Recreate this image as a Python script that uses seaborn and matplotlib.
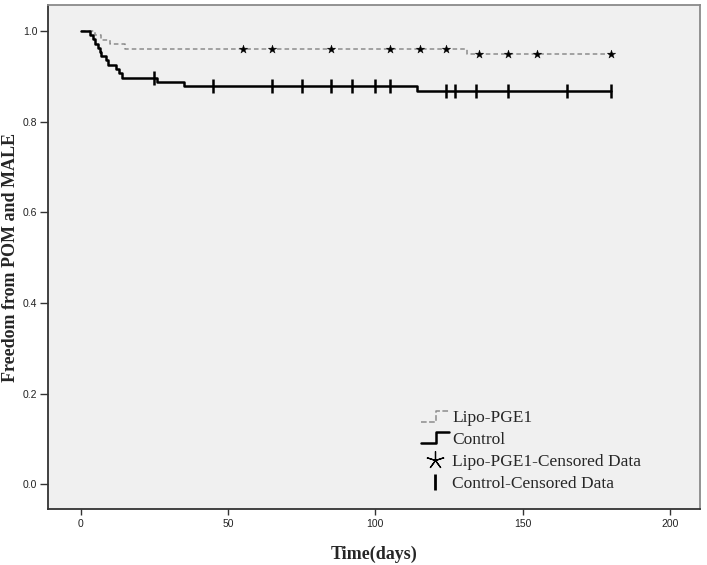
import numpy as np
import matplotlib
matplotlib.use("Agg")
import matplotlib.pyplot as plt
import seaborn as sns
from matplotlib.lines import Line2D
from matplotlib.legend_handler import HandlerBase

# ---- data ----
lipo_times = [0, 5, 7, 10, 15, 131, 180]
lipo_surv = [1.0, 0.990, 0.980, 0.970, 0.960, 0.949, 0.949]
ctrl_times = [0, 3, 4, 5, 6, 6.6, 7, 8.5, 9.4, 12, 13, 14, 26, 35, 114, 180]
ctrl_surv = [1.0, 0.991, 0.981, 0.972, 0.963, 0.953, 0.944, 0.935, 0.925,
             0.916, 0.907, 0.897, 0.888, 0.878, 0.868, 0.868]
lipo_censored = [55, 65, 85, 105, 115, 124, 135, 145, 155, 180]
ctrl_censored = [25, 45, 65, 75, 85, 92, 100, 105, 124, 127, 134, 145, 165, 180]
x_ticks = [0, 50, 100, 150, 200]
y_ticks = [0.0, 0.2, 0.4, 0.6, 0.8, 1.0]
legend_labels = ["Lipo-PGE1", "Control", "Lipo-PGE1-Censored Data", "Control-Censored Data"]


def step_value(times, surv, t):
    idx = np.searchsorted(times, t, side="right") - 1
    return [surv[i] for i in idx]


sns.set_style("white", {"axes.facecolor": "#F0F0F0"})
plt.rcParams["font.family"] = ["Liberation Sans", "DejaVu Sans"]

fig = plt.figure(figsize=(7.07, 5.65), dpi=100)
ax = fig.add_axes([0.0675, 0.0991, 0.9219, 0.8921])
ax.set_facecolor("#F0F0F0")

sns.lineplot(x=lipo_times, y=lipo_surv, drawstyle="steps-post", estimator=None,
             sort=False, color="#8C8C8C", linestyle=(0, (3, 2)), linewidth=1.1, ax=ax)
sns.lineplot(x=ctrl_times, y=ctrl_surv, drawstyle="steps-post", estimator=None,
             sort=False, color="black", linewidth=1.8, ax=ax)

sns.scatterplot(x=lipo_censored, y=step_value(lipo_times, lipo_surv, lipo_censored),
                marker="*", s=40, color="black", linewidth=0.3, edgecolor="black", ax=ax, zorder=5)
sns.scatterplot(x=ctrl_censored, y=step_value(ctrl_times, ctrl_surv, ctrl_censored),
                marker="|", s=110, color="black", linewidth=1.8, ax=ax, zorder=5)

ax.set_xlim(-11.2, 210)
ax.set_ylim(-0.0545, 1.057)
ax.set_xticks(x_ticks)
ax.set_xticklabels([str(v) for v in x_ticks])
ax.set_yticks(y_ticks)
ax.set_yticklabels([f"{v:.1f}" for v in y_ticks])
ax.tick_params(axis="x", direction="out", length=4, width=1, color="#333333",
               labelsize=7.5, labelcolor="#222222", pad=3, bottom=True)
ax.tick_params(axis="y", direction="out", length=5.5, width=1, color="#333333",
               labelsize=7.5, labelcolor="#222222", pad=2, left=True)

for side in ["left", "bottom"]:
    ax.spines[side].set_color("#333333")
    ax.spines[side].set_linewidth(1.3)
for side in ["top", "right"]:
    ax.spines[side].set_color("#8A8A8A")
    ax.spines[side].set_linewidth(1.3)

ax.set_xlabel("Time(days)", family=["Liberation Serif"], fontweight="bold",
              fontsize=13, labelpad=12)
ax.set_ylabel("Freedom from POM and MALE", family=["Liberation Serif"],
              fontweight="bold", fontsize=13, labelpad=3)


class StepHandler(HandlerBase):
    def create_artists(self, legend, orig_handle, xdescent, ydescent, width,
                       height, fontsize, trans):
        x0, y0 = -xdescent, -ydescent
        xm = x0 + width * 0.55
        xs = [x0, xm, xm, x0 + width]
        ys = [y0 + height * 0.05, y0 + height * 0.05, y0 + height * 0.95, y0 + height * 0.95]
        ln = Line2D(xs, ys, color=orig_handle.get_color(),
                    linestyle=orig_handle.get_linestyle(),
                    linewidth=orig_handle.get_linewidth())
        ln.set_transform(trans)
        return [ln]


h_lipo = Line2D([], [], color="#8C8C8C", linestyle=(0, (3, 2)), linewidth=1.1)
h_ctrl = Line2D([], [], color="black", linewidth=1.8)
h_lc = Line2D([], [], color="black", linestyle="none", marker=(5, 2, 0),
              markersize=13, markeredgewidth=0.9)
h_cc = Line2D([], [], color="black", linestyle="none", marker="|",
              markersize=11, markeredgewidth=2)

leg = ax.legend([h_lipo, h_ctrl, h_lc, h_cc], legend_labels,
                handler_map={h_lipo: StepHandler(), h_ctrl: StepHandler()},
                loc="upper left", bbox_to_anchor=(421 / 707, 1 - 410 / 565),
                bbox_transform=fig.transFigure, frameon=False,
                prop={"family": "Liberation Serif", "size": 12.5},
                handlelength=1.6, handletextpad=0.2, labelspacing=0.33,
                borderpad=0, borderaxespad=0)

fig.savefig("out.png", dpi=100, facecolor="white")
